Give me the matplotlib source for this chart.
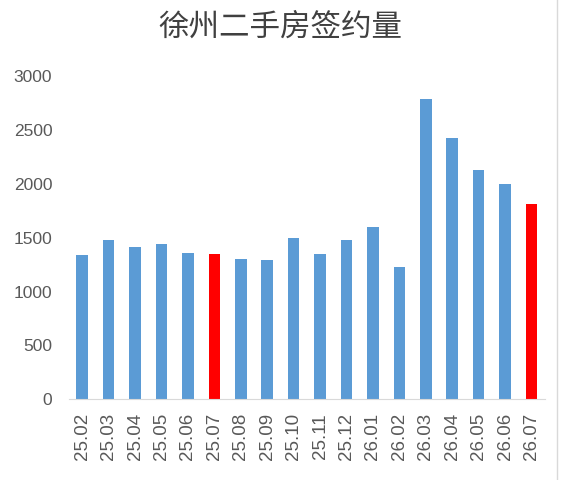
import numpy as np
import matplotlib
matplotlib.use('Agg')
from matplotlib import pyplot as plt
from matplotlib.lines import Line2D

months = ['25.02', '25.03', '25.04', '25.05', '25.06', '25.07', '25.08', '25.09', '25.10',
          '25.11', '25.12', '26.01', '26.02', '26.03', '26.04', '26.05', '26.06', '26.07']
volumes = [1335, 1475, 1410, 1445, 1360, 1345, 1305, 1290, 1500,
           1345, 1475, 1595, 1230, 2785, 2420, 2130, 2000, 1810]
highlight = ['25.07', '26.07']
yticks = [0, 500, 1000, 1500, 2000, 2500, 3000]

plt.rcParams['font.family'] = ['Liberation Sans', 'DejaVu Sans']

fig = plt.figure(figsize=(5.61, 4.80), dpi=100)
ax = fig.add_axes([0.123, 0.168, 0.848, 0.674])

colors = ['#ff0000' if m in highlight else '#5b9bd5' for m in months]
x = np.arange(len(months))
ax.bar(x, volumes, width=0.44, color=colors)

ax.set_xlim(-0.5, len(months) - 0.5)
ax.set_ylim(0, 3000)
ax.set_yticks(yticks)
ax.set_xticks(x)
ax.set_xticklabels(months, rotation=90, fontsize=13.5, color='#595959')
ax.tick_params(axis='y', length=0, pad=12, labelsize=12.5, labelcolor='#595959')
ax.tick_params(axis='x', length=0, pad=10)

for side in ['top', 'right', 'left']:
    ax.spines[side].set_visible(False)
ax.spines['bottom'].set_color('#d9d9d9')

# faint chart border on the right edge
fig.add_artist(Line2D([0.992, 0.992], [0, 1], transform=fig.transFigure,
                      color='#d9d9d9', lw=1))

fig.text(0.5, 0.943, '徐州二手房签约量', ha='center', va='center', fontsize=22,
         color='#404040', family=['Noto Sans CJK SC', 'DejaVu Sans'])

fig.savefig('out.png', dpi=100)
